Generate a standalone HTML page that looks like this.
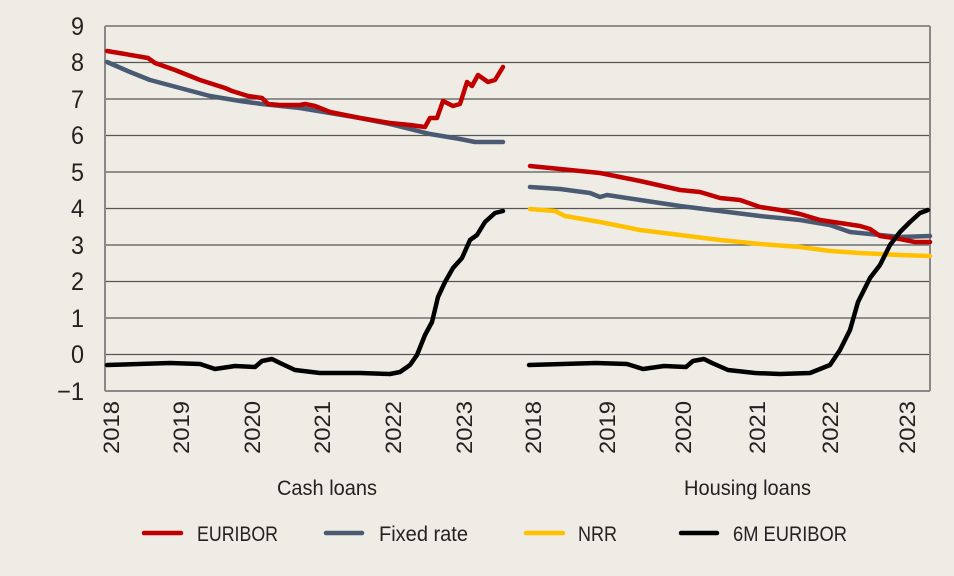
<!DOCTYPE html>
<html><head><meta charset="utf-8"><style>
body{margin:0;background:#efece5;}
svg{display:block;font-family:"Liberation Sans Narrow","Liberation Sans",sans-serif;}
</style></head><body>
<svg width="954" height="576" viewBox="0 0 954 576">
<rect width="954" height="576" fill="#efece5"/>
<g stroke="#555" stroke-width="1.3">
<line x1="105" y1="26" x2="930" y2="26"/>
<line x1="105" y1="62.5" x2="930" y2="62.5"/>
<line x1="105" y1="99" x2="930" y2="99"/>
<line x1="105" y1="135.5" x2="930" y2="135.5"/>
<line x1="105" y1="172" x2="930" y2="172"/>
<line x1="105" y1="208.5" x2="930" y2="208.5"/>
<line x1="105" y1="245" x2="930" y2="245"/>
<line x1="105" y1="281.5" x2="930" y2="281.5"/>
<line x1="105" y1="318" x2="930" y2="318"/>
<line x1="105" y1="354.5" x2="930" y2="354.5"/>
</g>
<g stroke="#888" stroke-width="2" fill="none">
<line x1="105" y1="26" x2="105" y2="391"/>
<line x1="930" y1="26" x2="930" y2="391"/>
<line x1="105" y1="391" x2="930" y2="391"/>
</g>
<g font-size="25" fill="#222" text-anchor="end">
<text x="84" y="35" textLength="13" lengthAdjust="spacingAndGlyphs">9</text><text x="84" y="71" textLength="13" lengthAdjust="spacingAndGlyphs">8</text><text x="84" y="108" textLength="13" lengthAdjust="spacingAndGlyphs">7</text>
<text x="84" y="144" textLength="13" lengthAdjust="spacingAndGlyphs">6</text><text x="84" y="181" textLength="13" lengthAdjust="spacingAndGlyphs">5</text><text x="84" y="217" textLength="13" lengthAdjust="spacingAndGlyphs">4</text>
<text x="84" y="254" textLength="13" lengthAdjust="spacingAndGlyphs">3</text><text x="84" y="290" textLength="13" lengthAdjust="spacingAndGlyphs">2</text><text x="84" y="327" textLength="13" lengthAdjust="spacingAndGlyphs">1</text>
<text x="84" y="363" textLength="13" lengthAdjust="spacingAndGlyphs">0</text><text x="84" y="400" textLength="27" lengthAdjust="spacingAndGlyphs">−1</text>
</g>
<g font-size="22" fill="#222" text-anchor="end">
<text transform="translate(119,401) rotate(-90)" textLength="53" lengthAdjust="spacingAndGlyphs">2018</text>
<text transform="translate(189,401) rotate(-90)" textLength="53" lengthAdjust="spacingAndGlyphs">2019</text>
<text transform="translate(260,401) rotate(-90)" textLength="53" lengthAdjust="spacingAndGlyphs">2020</text>
<text transform="translate(330,401) rotate(-90)" textLength="53" lengthAdjust="spacingAndGlyphs">2021</text>
<text transform="translate(401,401) rotate(-90)" textLength="53" lengthAdjust="spacingAndGlyphs">2022</text>
<text transform="translate(472,401) rotate(-90)" textLength="53" lengthAdjust="spacingAndGlyphs">2023</text>
<text transform="translate(541,401) rotate(-90)" textLength="53" lengthAdjust="spacingAndGlyphs">2018</text>
<text transform="translate(615,401) rotate(-90)" textLength="53" lengthAdjust="spacingAndGlyphs">2019</text>
<text transform="translate(691,401) rotate(-90)" textLength="53" lengthAdjust="spacingAndGlyphs">2020</text>
<text transform="translate(765,401) rotate(-90)" textLength="53" lengthAdjust="spacingAndGlyphs">2021</text>
<text transform="translate(838,401) rotate(-90)" textLength="53" lengthAdjust="spacingAndGlyphs">2022</text>
<text transform="translate(915,401) rotate(-90)" textLength="53" lengthAdjust="spacingAndGlyphs">2023</text>
</g>
<g font-size="21" fill="#222">
<text x="277" y="495" textLength="100" lengthAdjust="spacingAndGlyphs">Cash loans</text>
<text x="684" y="495" textLength="127" lengthAdjust="spacingAndGlyphs">Housing loans</text>
</g>
<g fill="none" stroke-width="4.5" stroke-linejoin="round" stroke-linecap="round">
<polyline stroke="#4a5a72" points="107,62 130,72 150,80 180,88 210,96 240,101 262,104 300,108 330,113 360,118 390,124 410,129 430,134 460,139 475,142 503,142"/>
<polyline stroke="#c00000" points="107,51 125,54 148,58 155,63 175,70 200,80 225,88 232,91 248,96 262,98 268,104 280,105 300,105 305,104 315,106 330,112 360,118 390,123 410,125 425,127 430,118 437,118 443,101 453,106 460,104 467,82 472,86 478,75 488,82 495,80 503,67"/>
<polyline stroke="#000" points="107,365 170,363 200,364 215,369 235,366 255,367 262,361 272,359 280,363 295,370 320,373 360,373 390,374 400,372 410,365 417,355 425,335 432,322 438,297 445,282 453,268 462,258 470,240 477,235 485,222 495,213 503,211"/>
<polyline stroke="#ffc000" points="530,209 555,211 565,216 600,222 640,230 680,235 720,240 760,244 800,247 830,251 860,253 900,255 930,256"/>
<polyline stroke="#4a5a72" points="530,187 560,189 590,193 600,197 607,195 640,200 680,206 720,211 760,216 800,220 830,225 850,232 870,234 900,237 930,236"/>
<polyline stroke="#c00000" points="530,166 560,169 600,173 640,181 680,190 700,192 720,198 740,200 760,207 780,210 800,214 820,220 840,223 860,226 870,229 880,236 900,239 915,242 930,242"/>
<polyline stroke="#000" points="529,365 596,363 627,364 643,369 664,366 686,367 693,361 704,359 712,363 728,370 755,373 780,374 810,373 830,365 840,350 850,330 858,302 870,278 880,265 890,245 900,232 910,222 920,213 928,210"/>
</g>
<g stroke-width="4.5" stroke-linecap="round">
<line x1="144" y1="533" x2="181" y2="533" stroke="#c00000"/>
<line x1="326" y1="533" x2="362" y2="533" stroke="#4a5a72"/>
<line x1="526" y1="533" x2="563" y2="533" stroke="#ffc000"/>
<line x1="681" y1="533" x2="717" y2="533" stroke="#000"/>
</g>
<g font-size="21" fill="#222">
<text x="197" y="541" textLength="81" lengthAdjust="spacingAndGlyphs">EURIBOR</text>
<text x="379" y="541" textLength="89" lengthAdjust="spacingAndGlyphs">Fixed rate</text>
<text x="578" y="541" textLength="39" lengthAdjust="spacingAndGlyphs">NRR</text>
<text x="733" y="541" textLength="114" lengthAdjust="spacingAndGlyphs">6M EURIBOR</text>
</g>
</svg>
</body></html>
